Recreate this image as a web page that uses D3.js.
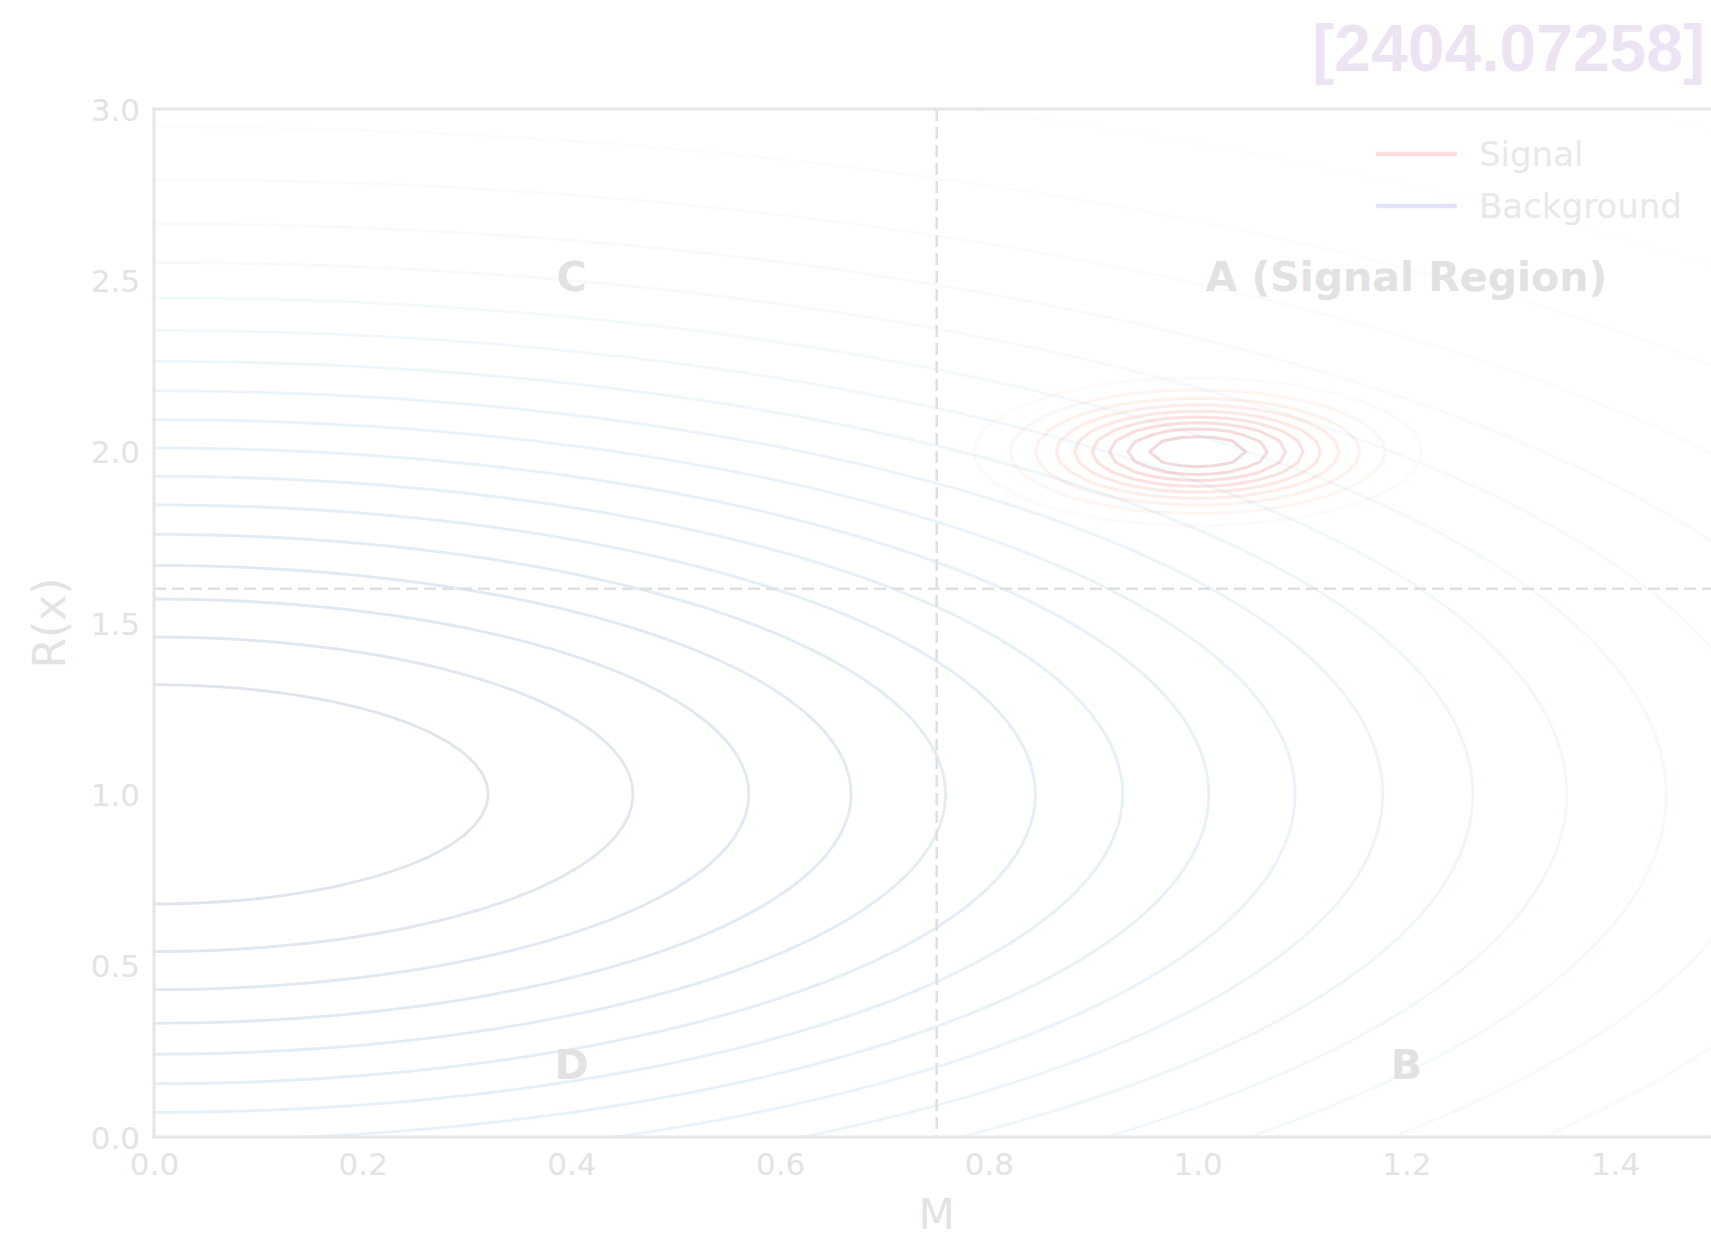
<!DOCTYPE html>
<html>
<head>
<meta charset="utf-8">
<script src="https://cdn.jsdelivr.net/npm/d3@7"></script>
<style>
  html, body { margin: 0; padding: 0; background: #ffffff; }
  svg { display: block; }
</style>
</head>
<body>
<script>
// ---- axes ----
const xDomain = [0, 1.5];
const yDomain = [0, 3];
const xTicks = [0.0, 0.2, 0.4, 0.6, 0.8, 1.0, 1.2, 1.4];
const yTicks = [0.0, 0.5, 1.0, 1.5, 2.0, 2.5, 3.0];
const xLabel = "M";
const yLabel = "R(x)";

// ---- background density (Gaussian in M and R) ----
const backgroundCenter = [0.0, 1.0];
const backgroundWidth = [1.0, 1.0];
const backgroundLevels = [0.05, 0.10, 0.15, 0.20, 0.25, 0.30, 0.35, 0.40, 0.45, 0.50,
                          0.55, 0.60, 0.65, 0.70, 0.75, 0.80, 0.85, 0.90, 0.95];

// ---- signal density ----
const signalCenter = [1.0, 2.0];
const signalWidth = [0.1, 0.1];
const signalLevels = [0.1, 0.2, 0.3, 0.4, 0.5, 0.6, 0.7, 0.8, 0.9];

// sampling step of the evaluation grid (M, R)
const gridStep = [1.5 / 99, 3 / 99];

// ---- ABCD cuts and region labels ----
const cutM = 0.75;
const cutR = 1.6;
const regionNames = ["A (Signal Region)", "B", "C", "D"];
const regionM = [1.2, 1.2, 0.4, 0.4];
const regionR = [2.5, 0.2, 2.5, 0.2];

// ---- legend ----
const legendNames = ["Signal", "Background"];
const legendColors = ["#fcdede", "#e2e3fa"];

const title = "[2404.07258]";

// ================= drawing =================
const W = 1711, H = 1240;
const plotLeft = 154, plotRight = 1719.4, plotTop = 109, plotBottom = 1137;

const svg = d3.select("body").append("svg")
  .attr("width", W).attr("height", H)
  .attr("viewBox", `0 0 ${W} ${H}`);

const x = d3.scaleLinear().domain(xDomain).range([plotLeft, plotRight]);
const y = d3.scaleLinear().domain(yDomain).range([plotBottom, plotTop]);

svg.append("defs").append("clipPath").attr("id", "plotClip")
  .append("rect")
  .attr("x", plotLeft).attr("y", plotTop)
  .attr("width", plotRight - plotLeft).attr("height", plotBottom - plotTop);

// evaluation grid, extended past the axes so contour closures stay hidden
const [dM, dR] = gridStep;
const i0 = Math.floor(-2.8 / dM), i1 = Math.ceil(2.1 / dM);
const j0 = Math.floor(-1.8 / dR), j1 = Math.ceil(3.8 / dR);
const nx = i1 - i0 + 1, ny = j1 - j0 + 1;

function gaussianGrid(center, width) {
  const v = new Float64Array(nx * ny);
  for (let j = 0; j < ny; j++) {
    const R = (j0 + j) * dR;
    const zr = (R - center[1]) / width[1];
    for (let i = 0; i < nx; i++) {
      const M = (i0 + i) * dM;
      const zm = (M - center[0]) / width[0];
      v[j * nx + i] = Math.exp(-0.5 * (zm * zm + zr * zr));
    }
  }
  return v;
}

const gridToPlot = d3.geoTransform({
  point(px, py) {
    this.stream.point(x((i0 + px - 0.5) * dM), y((j0 + py - 0.5) * dR));
  }
});
const contourPath = d3.geoPath(gridToPlot);

const plot = svg.append("g").attr("clip-path", "url(#plotClip)");

function drawContours(center, width, levels, interp, opacity, strokeWidth) {
  const values = gaussianGrid(center, width);
  const sets = d3.contours().size([nx, ny]).thresholds(levels)(values);
  plot.append("g")
    .attr("opacity", opacity)
    .selectAll("path")
    .data(sets)
    .join("path")
    .attr("d", contourPath)
    .attr("fill", "none")
    .attr("stroke", d => interp(d.value))
    .attr("stroke-width", strokeWidth)
    .attr("stroke-linejoin", "round");
}

drawContours(signalCenter, signalWidth, signalLevels,
  v => d3.interpolateReds(v), 0.15, 3);
drawContours(backgroundCenter, backgroundWidth, backgroundLevels,
  v => d3.interpolateBlues((v - 0.05) / 0.9), 0.12, 2.8);

// cut lines
plot.append("line")
  .attr("x1", x(cutM)).attr("x2", x(cutM))
  .attr("y1", plotTop).attr("y2", plotBottom)
  .attr("stroke", "#e0e0e0").attr("stroke-width", 2.6)
  .attr("stroke-dasharray", "12,6");
plot.append("line")
  .attr("x1", plotLeft).attr("x2", plotRight)
  .attr("y1", y(cutR)).attr("y2", y(cutR))
  .attr("stroke", "#e0e0e0").attr("stroke-width", 2.6)
  .attr("stroke-dasharray", "12,6");

// region labels
plot.append("g").selectAll("text")
  .data(regionNames)
  .join("text")
  .attr("x", (d, i) => x(regionM[i]))
  .attr("y", (d, i) => y(regionR[i]) + 11)
  .attr("text-anchor", "middle")
  .attr("font-family", "DejaVu Sans")
  .attr("font-weight", "bold")
  .attr("font-size", 41)
  .attr("fill", "#e2e2e2")
  .text(d => d);

// spines
const spineColor = "#e6e6e6";
svg.append("g")
  .selectAll("line")
  .data([
    [plotLeft, plotTop, plotLeft, plotBottom],
    [plotLeft, plotBottom, W + 10, plotBottom],
    [plotLeft, plotTop, W + 10, plotTop]
  ])
  .join("line")
  .attr("x1", d => d[0]).attr("y1", d => d[1])
  .attr("x2", d => d[2]).attr("y2", d => d[3])
  .attr("stroke", spineColor).attr("stroke-width", 3)
  .attr("stroke-linecap", "square");

// axes (tick labels only)
const tickColor = "#e3e3e3";
const xAxis = svg.append("g")
  .attr("transform", `translate(0,${plotBottom})`)
  .call(d3.axisBottom(x).tickValues(xTicks).tickFormat(d3.format(".1f")).tickSize(0).tickPadding(0));
xAxis.select(".domain").remove();
xAxis.selectAll("text")
  .attr("font-family", "DejaVu Sans").attr("font-size", 31)
  .attr("fill", tickColor)
  .attr("dy", null).attr("y", 38);

const yAxis = svg.append("g")
  .attr("transform", `translate(${plotLeft},0)`)
  .call(d3.axisLeft(y).tickValues(yTicks).tickFormat(d3.format(".1f")).tickSize(0).tickPadding(14));
yAxis.select(".domain").remove();
yAxis.selectAll("text")
  .attr("font-family", "DejaVu Sans").attr("font-size", 31)
  .attr("fill", tickColor)
  .attr("dy", null).attr("y", 11);

// axis titles
svg.append("text")
  .attr("x", (plotLeft + plotRight) / 2).attr("y", 1229)
  .attr("text-anchor", "middle")
  .attr("font-family", "DejaVu Sans").attr("font-size", 42)
  .attr("fill", tickColor)
  .text(xLabel);
svg.append("text")
  .attr("transform", `translate(65,${(plotTop + plotBottom) / 2}) rotate(-90)`)
  .attr("text-anchor", "middle")
  .attr("font-family", "DejaVu Sans").attr("font-size", 44)
  .attr("fill", tickColor)
  .text(yLabel);

// legend
const legend = svg.append("g");
const legendRows = legend.selectAll("g")
  .data(legendNames)
  .join("g")
  .attr("transform", (d, i) => `translate(1378,${154 + i * 52})`);
legendRows.append("line")
  .attr("x1", 0).attr("x2", 77).attr("y1", 0).attr("y2", 0)
  .attr("stroke", (d, i) => legendColors[i]).attr("stroke-width", 4.5)
  .attr("stroke-linecap", "round");
legendRows.append("text")
  .attr("x", 101).attr("y", 12)
  .attr("font-family", "DejaVu Sans").attr("font-size", 34)
  .attr("fill", "#e8e8e8")
  .text(d => d);

// identifier in the corner
svg.append("text")
  .attr("x", 1705).attr("y", 71)
  .attr("text-anchor", "end")
  .attr("font-family", "Liberation Sans, Arial, sans-serif")
  .attr("font-weight", "bold")
  .attr("font-size", 66)
  .attr("fill", "#ece3f3")
  .text(title);
</script>
</body>
</html>
